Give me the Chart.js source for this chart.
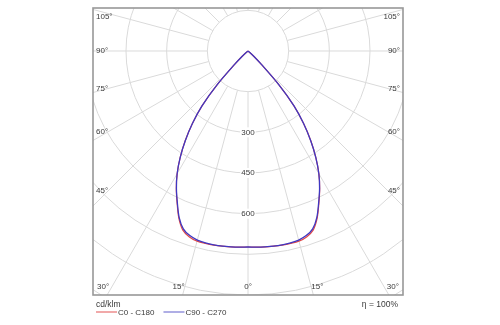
<!DOCTYPE html>
<html>
<head>
<meta charset="utf-8">
<style>
  html, body { margin: 0; padding: 0; background: #ffffff; }
  #wrap { width: 500px; height: 325px; }
</style>
<script src="https://cdn.jsdelivr.net/npm/chart.js@4/dist/chart.umd.min.js"></script>
</head>
<body>
<div id="wrap"><canvas id="chart" width="500" height="325"></canvas></div>
<script>
// Luminous intensity distribution, cd/klm, by gamma angle (0 = straight down)
const gammaDeg = [0, 2.5, 5, 7.5, 10, 12.5, 15, 17.5, 20, 22.5, 25, 27.5, 30, 32.5, 35, 37.5, 40, 42.5, 45, 47.5, 50, 52.5];
const c0c180  = [723, 724, 725, 726, 727, 727, 726, 719, 703, 667, 619, 573, 523, 466, 404, 337, 264, 169, 71, 30, 8, 0];
const c90c270 = [723, 724, 725, 726, 726, 725, 722, 714, 698, 664, 617, 572, 523, 466, 403, 337, 264, 168, 70, 30, 8, 0];
const seriesNames = ['C0 - C180', 'C90 - C270'];

// Polar grid
const ringValues = [150, 300, 450, 600, 750, 900, 1050];
const ringLabels = [300, 450, 600];
const spokeStep = 15;
const sideAngleLabels = [45, 60, 75, 90, 105];
const bottomAngleLabels = [30, 15, 0, 15, 30];
const unitLabel = 'cd/klm';
const efficiencyLabel = '\u03B7 = 100%';

const FONT = '8px "Liberation Sans", Arial, sans-serif';
const GRID = '#dadada';
const TEXT = '#3a3a3a';

function polarPoints(values) {
  const pts = [];
  for (let i = gammaDeg.length - 1; i >= 0; i--) {
    const g = gammaDeg[i] * Math.PI / 180;
    pts.push({ x: -values[i] * Math.sin(g), y: -values[i] * Math.cos(g) });
  }
  for (let i = 1; i < gammaDeg.length; i++) {
    const g = gammaDeg[i] * Math.PI / 180;
    pts.push({ x: values[i] * Math.sin(g), y: -values[i] * Math.cos(g) });
  }
  return pts;
}

const polarGrid = {
  id: 'polarGrid',
  beforeDatasetsDraw(chart) {
    const { ctx, chartArea: a, scales: { x, y } } = chart;
    const cx = x.getPixelForValue(0), cy = y.getPixelForValue(0);
    const rad = v => y.getPixelForValue(-v) - cy;
    ctx.save();
    ctx.beginPath();
    ctx.rect(a.left, a.top, a.right - a.left, a.bottom - a.top);
    ctx.clip();
    ctx.strokeStyle = GRID;
    ctx.lineWidth = 1;
    ringValues.forEach(v => {
      ctx.beginPath();
      ctx.arc(cx, cy, rad(v), 0, Math.PI * 2);
      ctx.stroke();
    });
    const r0 = rad(ringValues[0]);
    for (let ang = 0; ang < 360; ang += spokeStep) {
      const t = ang * Math.PI / 180;
      ctx.beginPath();
      ctx.moveTo(cx + r0 * Math.sin(t), cy + r0 * Math.cos(t));
      ctx.lineTo(cx + 600 * Math.sin(t), cy + 600 * Math.cos(t));
      ctx.stroke();
    }
    // radial value labels on the 0° spoke
    ctx.font = FONT;
    ctx.textAlign = 'center';
    ctx.textBaseline = 'middle';
    ringLabels.forEach(v => {
      const ty = cy + rad(v);
      const w = ctx.measureText(String(v)).width;
      ctx.fillStyle = '#ffffff';
      ctx.fillRect(cx - w / 2 - 1, ty - 5, w + 2, 10);
      ctx.fillStyle = TEXT;
      ctx.fillText(String(v), cx, ty);
    });
    ctx.restore();
  },
  afterDraw(chart) {
    const { ctx, chartArea: a, scales: { x, y } } = chart;
    const cx = x.getPixelForValue(0), cy = y.getPixelForValue(0);
    ctx.save();
    // frame
    ctx.strokeStyle = '#989898';
    ctx.lineWidth = 1.6;
    ctx.strokeRect(a.left, a.top, a.right - a.left, a.bottom - a.top);

    ctx.font = FONT;
    ctx.fillStyle = TEXT;
    ctx.textBaseline = 'middle';
    // angle labels along the sides
    sideAngleLabels.forEach(deg => {
      const t = deg * Math.PI / 180;
      let ty = cy + (cx - a.left) * Math.cos(t) / Math.sin(t) * 0.9;
      ty = Math.max(a.top + 9, ty);
      ctx.textAlign = 'left';
      ctx.fillText(deg + '\u00B0', a.left + 3, ty);
      ctx.textAlign = 'right';
      ctx.fillText(deg + '\u00B0', a.right - 3, ty);
    });
    // angle labels along the bottom
    const half = (bottomAngleLabels.length - 1) / 2;
    bottomAngleLabels.forEach((deg, i) => {
      const side = Math.sign(i - half);
      const t = deg * Math.PI / 180;
      const tx = cx + side * (Math.tan(t) * (a.bottom - cy) + 4);
      ctx.textAlign = 'center';
      ctx.fillText(deg + '\u00B0', tx, a.bottom - 8);
    });

    // unit, legend and efficiency
    ctx.textBaseline = 'alphabetic';
    ctx.textAlign = 'left';
    ctx.font = '8.5px "Liberation Sans", Arial, sans-serif';
    ctx.fillText(unitLabel, a.left + 3, 307);
    ctx.textAlign = 'right';
    ctx.fillText(efficiencyLabel, a.right - 5, 307);

    ctx.textAlign = 'left';
    ctx.font = FONT;
    let lx = a.left + 3;
    chart.data.datasets.forEach(ds => {
      ctx.strokeStyle = ds.legendColor;
      ctx.lineWidth = 1.2;
      ctx.beginPath();
      ctx.moveTo(lx, 312);
      ctx.lineTo(lx + 21, 312);
      ctx.stroke();
      ctx.fillStyle = TEXT;
      ctx.fillText(ds.label, lx + 22, 315);
      lx += 22 + ctx.measureText(ds.label).width + 9;
    });
    ctx.restore();
  }
};

new Chart(document.getElementById('chart'), {
  type: 'scatter',
  data: {
    datasets: [
      { label: seriesNames[0], data: polarPoints(c0c180), showLine: true, order: 2,
        borderColor: '#e04848', legendColor: '#e87070', borderWidth: 1.2, tension: 0.3, pointRadius: 0 },
      { label: seriesNames[1], data: polarPoints(c90c270), showLine: true, order: 1,
        borderColor: '#3f38c2', legendColor: '#7a78d4', borderWidth: 1.3, tension: 0.3, pointRadius: 0 }
    ]
  },
  options: {
    responsive: false,
    devicePixelRatio: 1,
    animation: false,
    layout: { padding: { left: 93, right: 97, top: 8, bottom: 30 } },
    plugins: { legend: { display: false }, tooltip: { enabled: false } },
    scales: {
      x: { type: 'linear', min: -572, max: 572, display: false },
      y: { type: 'linear', min: -900, max: 158.6, display: false }
    }
  },
  plugins: [polarGrid]
});
</script>
</body>
</html>
